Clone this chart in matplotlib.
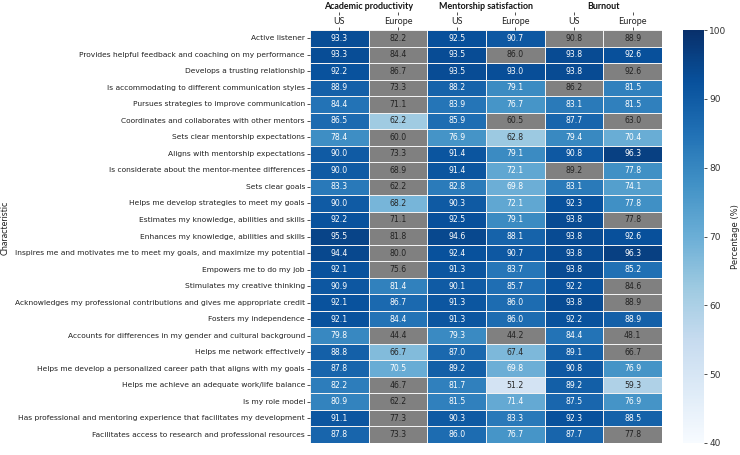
import numpy as np
import pandas as pd
import matplotlib
matplotlib.use("Agg")
import matplotlib.pyplot as plt
from matplotlib.colors import ListedColormap
import seaborn as sns

characteristics = [
    "Active listener",
    "Provides helpful feedback and coaching on my performance",
    "Develops a trusting relationship",
    "Is accommodating to different communication styles",
    "Pursues strategies to improve communication",
    "Coordinates and collaborates with other mentors",
    "Sets clear mentorship expectations",
    "Aligns with mentorship expectations",
    "Is considerate about the mentor-mentee differences",
    "Sets clear goals",
    "Helps me develop strategies to meet my goals",
    "Estimates my knowledge, abilities and skills",
    "Enhances my knowledge, abilities and skills",
    "Inspires me and motivates me to meet my goals, and maximize my potential",
    "Empowers me to do my job",
    "Stimulates my creative thinking",
    "Acknowledges my professional contributions and gives me appropriate credit",
    "Fosters my independence",
    "Accounts for differences in my gender and cultural background",
    "Helps me network effectively",
    "Helps me develop a personalized career path that aligns with my goals",
    "Helps me achieve an adequate work/life balance",
    "Is my role model",
    "Has professional and mentoring experience that facilitates my development",
    "Facilitates access to research and professional resources",
]

groups = ["Academic productivity", "Mentorship satisfaction", "Burnout"]
regions = ["US", "Europe"]

acad_us = [93.3, 93.3, 92.2, 88.9, 84.4, 86.5, 78.4, 90.0, 90.0, 83.3, 90.0, 92.2, 95.5,
           94.4, 92.1, 90.9, 92.1, 92.1, 79.8, 88.8, 87.8, 82.2, 80.9, 91.1, 87.8]
acad_eu = [82.2, 84.4, 86.7, 73.3, 71.1, 62.2, 60.0, 73.3, 68.9, 62.2, 68.2, 71.1, 81.8,
           80.0, 75.6, 81.4, 86.7, 84.4, 44.4, 66.7, 70.5, 46.7, 62.2, 77.3, 73.3]
sat_us = [92.5, 93.5, 93.5, 88.2, 83.9, 85.9, 76.9, 91.4, 91.4, 82.8, 90.3, 92.5, 94.6,
          92.4, 91.3, 90.1, 91.3, 91.3, 79.3, 87.0, 89.2, 81.7, 81.5, 90.3, 86.0]
sat_eu = [90.7, 86.0, 93.0, 79.1, 76.7, 60.5, 62.8, 79.1, 72.1, 69.8, 72.1, 79.1, 88.1,
          90.7, 83.7, 85.7, 86.0, 86.0, 44.2, 67.4, 69.8, 51.2, 71.4, 83.3, 76.7]
burn_us = [90.8, 93.8, 93.8, 86.2, 83.1, 87.7, 79.4, 90.8, 89.2, 83.1, 92.3, 93.8, 93.8,
           93.8, 93.8, 92.2, 93.8, 92.2, 84.4, 89.1, 90.8, 89.2, 87.5, 92.3, 87.7]
burn_eu = [88.9, 92.6, 92.6, 81.5, 81.5, 63.0, 70.4, 96.3, 77.8, 74.1, 77.8, 77.8, 92.6,
           96.3, 85.2, 84.6, 88.9, 88.9, 48.1, 66.7, 76.9, 59.3, 76.9, 88.5, 77.8]

# 1 = not significant (shown in grey)
ns_acad_us = [0] * 25
ns_acad_eu = [1, 1, 1, 1, 1, 0, 1, 1, 1, 1, 0, 1, 1, 1, 1, 0, 0, 0, 1, 0, 0, 1, 1, 1, 1]
ns_sat_us = [0] * 25
ns_sat_eu = [0, 1, 0, 0, 0, 1, 0, 0, 0, 0, 0, 0, 0, 0, 0, 0, 0, 0, 1, 0, 0, 0, 0, 0, 0]
ns_burn_us = [1, 0, 0, 1, 0, 0, 0, 0, 1, 0, 0, 0, 0, 0, 0, 0, 0, 0, 0, 0, 0, 0, 0, 0, 0]
ns_burn_eu = [1, 0, 1, 0, 0, 1, 0, 0, 0, 0, 0, 1, 0, 0, 0, 1, 1, 0, 1, 1, 0, 0, 0, 0, 1]

cols = [f"{g}|{r}" for g in groups for r in regions]
df = pd.DataFrame(np.column_stack([acad_us, acad_eu, sat_us, sat_eu, burn_us, burn_eu]),
                  index=characteristics, columns=cols)
grey = np.column_stack([ns_acad_us, ns_acad_eu, ns_sat_us, ns_sat_eu,
                        ns_burn_us, ns_burn_eu]).astype(bool)

fig = plt.figure(figsize=(7.4, 4.55), dpi=100)
ax = fig.add_axes([0.419, 0.0264, 0.4757, 0.9076])
cax = fig.add_axes([0.923, 0.0264, 0.0284, 0.9076])

FS = 5.6
sns.heatmap(df, mask=grey, cmap="Blues", vmin=40, vmax=100, annot=True, fmt=".1f",
            annot_kws={"size": FS}, linewidths=0.7, linecolor="#f2f2f2",
            ax=ax, cbar_ax=cax)
sns.heatmap(df, mask=~grey, cmap=ListedColormap(["#808080"]), annot=True, fmt=".1f",
            annot_kws={"size": FS, "color": "#222222"}, linewidths=0.7, linecolor="#f2f2f2",
            ax=ax, cbar=False)

ax.set_yticks(np.arange(25) + 0.5)
ax.set_yticklabels(characteristics, rotation=0, fontsize=5.4)
ax.set_ylabel("")
ax.set_xlabel("")
fig.text(5 / 740, 1 - 228 / 455, "Characteristic", rotation=90, ha="center", va="center",
         fontsize=6.5, family="Lato", color="#222222")
ax.xaxis.tick_top()
ax.set_xticks(np.arange(6) + 0.5)
ax.set_xticklabels(regions * 3, fontsize=6.5, family="Lato")
ax.tick_params(axis="x", length=2.2, pad=1.0, width=0.6, colors="#333333")
ax.tick_params(axis="y", length=2.2, width=0.6, pad=1.5, colors="#333333")
for lab in ax.get_xticklabels() + ax.get_yticklabels():
    lab.set_color("#222222")

sec = ax.secondary_xaxis(1.037)
sec.set_xticks(np.arange(6) + 0.5)
sec.set_xticklabels([""] * 6)
sec.tick_params(length=2.2, width=0.6, colors="#333333")
sec.spines["top"].set_visible(False)

for i, g in enumerate(groups):
    ax.text(2 * i + 1, 1.058, g, transform=ax.get_xaxis_transform(), ha="center",
            va="center", fontsize=6.4, fontweight="bold", family="Lato", color="#111111")

cax.tick_params(labelsize=6.5, length=2.2, width=0.6, colors="#333333", pad=1.5)
cax.set_ylabel("Percentage (%)", fontsize=6, color="#222222", labelpad=3)
cax.set_yticks([40, 50, 60, 70, 80, 90, 100])

fig.savefig("out.png", dpi=100)
